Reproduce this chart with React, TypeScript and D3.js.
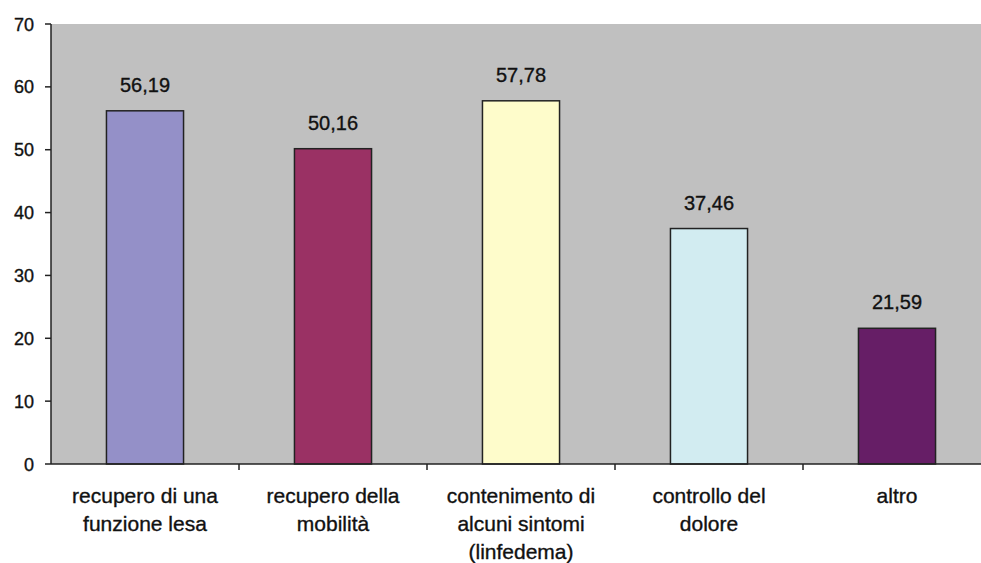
import React from "react";
import * as d3 from "d3";

const categories = [
  ["recupero di una", "funzione lesa"],
  ["recupero della", "mobilità"],
  ["contenimento di", "alcuni sintomi", "(linfedema)"],
  ["controllo del", "dolore"],
  ["altro"],
];
const values = [56.19, 50.16, 57.78, 37.46, 21.59];
const valueLabels = ["56,19", "50,16", "57,78", "37,46", "21,59"];
const colors = ["#9490c8", "#9a3164", "#fefccb", "#d2ecf1", "#661e66"];
const yTicks = [0, 10, 20, 30, 40, 50, 60, 70];

const W = 981;
const H = 563;
const left = 51;
const right = 991;
const top = 24;
const bottom = 464;
const font = "Liberation Sans, Arial, sans-serif";

const App = () => {
  const keys = categories.map((_, i) => String(i));
  const x = d3.scaleBand().domain(keys).range([left, right]).paddingInner(0).paddingOuter(0);
  const y = d3.scaleLinear().domain([0, 70]).range([bottom, top]);
  const barW = x.bandwidth() * 0.41;
  const textStyle = { stroke: "#111", strokeWidth: 0.35 };

  return (
    <div style={{ position: "absolute", left: 0, top: 0 }}>
      <svg width={W} height={H} style={{ display: "block", background: "#fff" }}>
        <rect x={left} y={top} width={right - left} height={bottom - top} fill="#c0c0c0" />
        {values.map((v, i) => {
          const cx = (x(String(i)) as number) + x.bandwidth() / 2;
          return (
            <g key={i}>
              <rect
                x={cx - barW / 2}
                y={y(v)}
                width={barW}
                height={bottom - y(v)}
                fill={colors[i]}
                stroke="#222"
                strokeWidth={1.5}
              />
              <text
                x={cx}
                y={y(v) - 19}
                textAnchor="middle"
                fontFamily={font}
                fontSize={20}
                fill="#111"
                style={textStyle}
              >
                {valueLabels[i]}
              </text>
              {categories[i].map((line, j) => (
                <text
                  key={j}
                  x={cx}
                  y={503 + j * 28}
                  textAnchor="middle"
                  fontFamily={font}
                  fontSize={21}
                  fill="#111"
                  style={textStyle}
                >
                  {line}
                </text>
              ))}
            </g>
          );
        })}
        {/* axes */}
        <line x1={left} x2={left} y1={top} y2={bottom} stroke="#222" strokeWidth={1.5} />
        <line x1={left} x2={right} y1={bottom} y2={bottom} stroke="#222" strokeWidth={1.5} />
        {yTicks.map((t) => (
          <g key={t}>
            <line x1={left - 6} x2={left} y1={y(t)} y2={y(t)} stroke="#222" strokeWidth={1.5} />
            <text
              x={34}
              y={y(t) + 6.5}
              textAnchor="end"
              fontFamily={font}
              fontSize={18}
              fill="#111"
              style={textStyle}
            >
              {t}
            </text>
          </g>
        ))}
        {keys.slice(1).map((k) => (
          <line
            key={k}
            x1={x(k) as number}
            x2={x(k) as number}
            y1={bottom}
            y2={bottom + 6}
            stroke="#222"
            strokeWidth={1.5}
          />
        ))}
      </svg>
    </div>
  );
};

export default App;
